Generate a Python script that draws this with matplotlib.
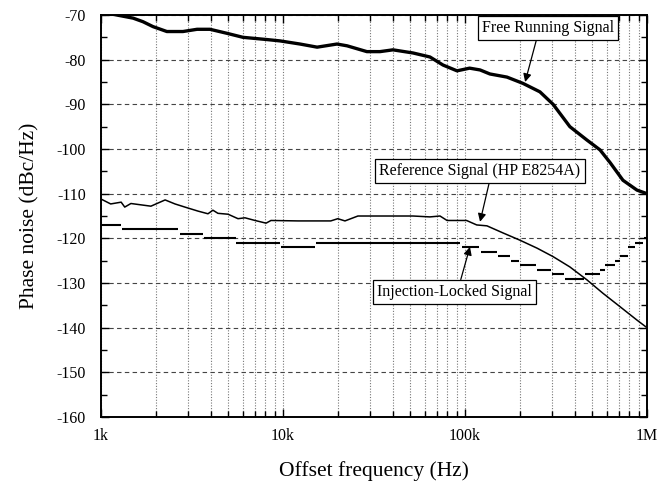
import matplotlib
matplotlib.use("Agg")
import matplotlib.pyplot as plt
from matplotlib.ticker import FixedLocator, MultipleLocator, LogLocator, NullFormatter

plt.rcParams['font.family'] = ['Liberation Serif', 'DejaVu Serif']
plt.rcParams['axes.unicode_minus'] = False

# Free running signal (offset freq Hz, dBc/Hz)
free_f = [1000, 1150, 1500, 1700, 1930, 2300, 2820, 3370, 3970, 4920, 6030, 8170, 9630,
          12400, 15400, 19800, 22500, 28900, 34100, 40200, 51800, 64200, 75700, 90400,
          106000, 121000, 137000, 170000, 208000, 258000, 305000, 377000, 468000,
          552000, 626000, 738000, 881000, 1000000]
free_pn = [-69.5, -69.8, -70.7, -71.5, -72.6, -73.7, -73.7, -73.2, -73.2, -74.1, -75.0,
           -75.5, -75.8, -76.5, -77.2, -76.5, -76.9, -78.2, -78.2, -77.8, -78.5, -79.4,
           -81.2, -82.5, -81.9, -82.3, -83.2, -83.9, -85.3, -87.2, -90.0, -95.0, -98.0,
           -100.2, -103.0, -107.0, -109.2, -110.0]

# Reference signal (HP E8254A)
ref_f = [1000, 1130, 1290, 1350, 1460, 1880, 2250, 2550, 2890, 3410, 3870, 4120, 4390,
         4990, 5660, 6180, 7020, 8070, 8590, 12100, 18300, 20000, 21900, 25800, 30400,
         35400, 51800, 64200, 72900, 79700, 102000, 116000, 132000, 162000, 200000,
         249000, 305000, 377000, 468000, 573000, 711000, 881000, 1000000]
ref_pn = [-111.2, -112.3, -111.9, -113.0, -112.2, -112.8, -111.4, -112.3, -113.0, -113.9,
          -114.5, -113.7, -114.4, -114.6, -115.6, -115.4, -116.0, -116.6, -116.0, -116.1,
          -116.1, -115.6, -116.1, -115.0, -115.0, -115.0, -115.0, -115.2, -115.0, -116.0,
          -116.0, -117.0, -117.2, -118.8, -120.4, -122.2, -124.1, -126.4, -129.3, -132.3,
          -135.3, -138.3, -140.0]

# Injection-locked signal: quantised levels (segment start, segment end, level)
inj_start = [1000, 1300, 2720, 3660, 5550, 9750, 15200, 96000, 122000, 151000, 178000,
             201000, 250000, 301000, 356000, 458000, 554000, 590000, 669000, 713000,
             789000, 862000, 962000]
inj_end = [1280, 2650, 3620, 5500, 9630, 15000, 94000, 120000, 149000, 176000, 198000,
           247000, 298000, 352000, 453000, 550000, 586000, 665000, 708000, 784000,
           857000, 957000, 1000000]
inj_pn = [-117, -118, -119, -120, -121, -122, -121, -122, -123, -124, -125, -126, -127,
          -128, -129, -128, -127, -126, -125, -124, -122, -121, -120]

x_ticks = [1e3, 1e4, 1e5, 1e6]
x_ticklabels = ['1k', '10k', '100k', '1M']
y_ticks = [-160, -150, -140, -130, -120, -110, -100, -90, -80, -70]

fig = plt.figure(figsize=(6.62, 4.87), dpi=100)
ax = fig.add_axes([0.1526, 0.1437, 0.8247, 0.8255])

ax.set_xscale('log')
ax.set_xlim(1e3, 1e6)
ax.set_ylim(-160, -70)

ax.xaxis.set_major_locator(FixedLocator(x_ticks))
ax.set_xticklabels(x_ticklabels)
ax.xaxis.set_minor_locator(LogLocator(base=10, subs=range(2, 10)))
ax.xaxis.set_minor_formatter(NullFormatter())
ax.yaxis.set_major_locator(FixedLocator(y_ticks))
ax.yaxis.set_minor_locator(MultipleLocator(5))

ax.grid(True, which='major', axis='y', linestyle=(0, (4, 3)), color='#444444', linewidth=0.8)
ax.grid(True, which='both', axis='x', linestyle=(0, (1, 1.5)), color='#777777', linewidth=0.8)

ax.plot(free_f, free_pn, color='black', linewidth=2.4, zorder=3, solid_capstyle='butt')
ax.plot(ref_f, ref_pn, color='black', linewidth=1.1, zorder=3)
ax.hlines(inj_pn, inj_start, inj_end, colors='black', linewidth=1.5, zorder=3)

for s in ax.spines.values():
    s.set_linewidth(1.4)

ax.tick_params(which='both', direction='in', top=True, right=True, labelsize=11.5,
               width=1.0, colors='black')
ax.tick_params(which='major', length=6)
ax.tick_params(which='minor', length=4)
ax.tick_params(axis='x', which='major', pad=8)
ax.tick_params(axis='y', which='major', pad=11)

ax.set_xlabel('Offset frequency (Hz)', fontsize=15.5, labelpad=12)
ax.set_ylabel('Phase noise (dBc/Hz)', fontsize=15.5, labelpad=12)

bbox = dict(boxstyle='square,pad=0.25', facecolor='white', edgecolor='black', linewidth=0.9)
arrow = dict(arrowstyle='-|>', color='black', linewidth=0.9, mutation_scale=12,
             shrinkA=0, shrinkB=0)

ax.annotate('Free Running Signal', xy=(214000, -85.0), xytext=(286000, -72.9),
            ha='center', va='center', fontsize=11.5, bbox=bbox,
            arrowprops=dict(arrow, relpos=(0.42, 0)), zorder=5)
ax.annotate('Reference Signal (HP E8254A)', xy=(121000, -116.3), xytext=(121000, -104.9),
            ha='center', va='center', fontsize=11.5, bbox=bbox,
            arrowprops=dict(arrow, relpos=(0.55, 0)), zorder=5)
ax.annotate('Injection-Locked Signal', xy=(106500, -121.9), xytext=(88000, -132.0),
            ha='center', va='center', fontsize=11.5, bbox=bbox,
            arrowprops=dict(arrow, relpos=(0.53, 1)), zorder=5)

fig.savefig('out.png', dpi=100)
